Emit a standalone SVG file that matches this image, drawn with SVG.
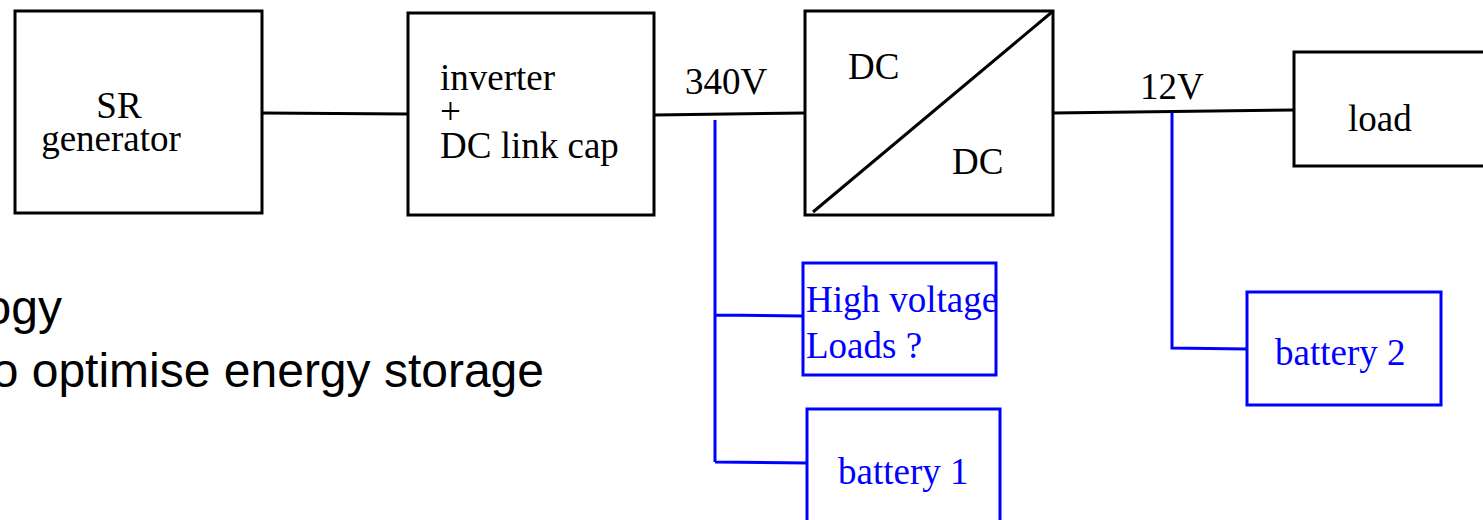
<svg xmlns="http://www.w3.org/2000/svg" width="1483" height="520" viewBox="0 0 1483 520">
<style>
.box{fill:#fff;stroke:#000;stroke-width:3}
.bbox{fill:#fff;stroke:#0000ff;stroke-width:3}
.t{font-family:"Liberation Serif","Times New Roman",serif;font-size:37px;fill:#000}
.bt{font-family:"Liberation Serif","Times New Roman",serif;font-size:37px;fill:#0000ff}
.s{font-family:"Liberation Sans",Arial,sans-serif;font-size:48px;fill:#000}
.w{fill:none;stroke:#000;stroke-width:3}
.bw{fill:none;stroke:#0000ff;stroke-width:3}
</style>
<rect width="1483" height="520" fill="#fff"/>
<g id="bullets">
<text class="s" x="62" y="324" text-anchor="end">ogy</text>
<text class="s" x="544" y="387" text-anchor="end">o optimise energy storage</text>
</g>
<g id="connectors">
<path class="w" d="M262,113 L408,114"/>
<path class="w" d="M654,115 L805,113"/>
<path class="w" d="M1053,113 L1294,110"/>
<path class="bw" d="M715,120 L715,462 M715,315 L803,316 M715,462 L807,463"/>
<path class="bw" d="M1172,113 L1172,348 L1247,349"/>
</g>
<g id="sr-generator">
<rect class="box" x="15" y="11" width="247" height="202"/>
<text class="t" x="119" y="118" text-anchor="middle">SR</text>
<text class="t" x="111" y="151" text-anchor="middle">generator</text>
</g>
<g id="inverter">
<rect class="box" x="408" y="13" width="246" height="202"/>
<text class="t" x="440" y="90">inverter</text>
<text class="t" x="440" y="124">+</text>
<text class="t" x="440" y="158">DC link cap</text>
</g>
<g id="label-340v"><text class="t" x="685" y="94">340V</text></g>
<g id="dcdc">
<rect class="box" x="805" y="11" width="248" height="204"/>
<path class="w" d="M813,212 L1052,12"/>
<text class="t" x="848" y="79">DC</text>
<text class="t" x="952" y="174">DC</text>
</g>
<g id="label-12v"><text class="t" x="1140" y="99">12V</text></g>
<g id="load">
<rect class="box" x="1294" y="52" width="200" height="114"/>
<text class="t" x="1348" y="131">load</text>
</g>
<g id="hv-loads">
<rect class="bbox" x="803" y="263" width="193" height="112"/>
<text class="bt" x="806" y="312">High voltage</text>
<text class="bt" x="806" y="358">Loads ?</text>
</g>
<g id="battery1">
<rect class="bbox" x="807" y="409" width="193" height="130"/>
<text class="bt" x="838" y="484">battery 1</text>
</g>
<g id="battery2">
<rect class="bbox" x="1247" y="292" width="194" height="113"/>
<text class="bt" x="1275" y="365">battery 2</text>
</g>
</svg>
